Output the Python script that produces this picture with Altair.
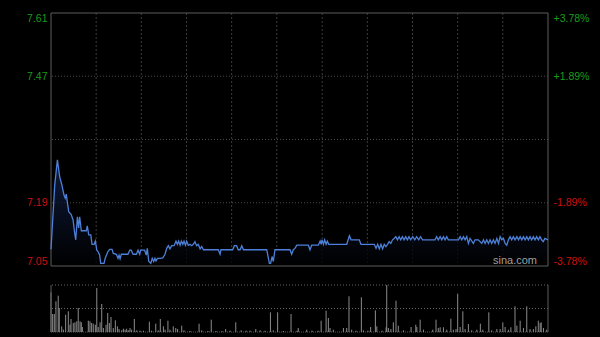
import altair as alt
import pandas as pd

# ---------------- data ----------------
minutes = [0.0, 1.8, 3.1, 4.2, 5.3, 6.3, 6.9, 7.4, 7.9, 8.6, 9.8, 10.7, 11.5, 12.0, 12.8, 13.4, 13.9, 14.7,
           17.1, 17.6, 18.3, 19.3, 19.9, 20.9, 21.5, 22.2, 22.8, 23.6, 24.1, 25.7, 26.3, 27.6, 28.5, 29.6,
           30.2, 31.7, 32.5, 33.0, 33.5, 34.1, 37.3, 38.2, 38.9, 39.8, 41.4, 42.2, 43.0, 43.5, 45.4, 46.2,
           46.7, 47.4, 48.4, 49.1, 49.8, 50.4, 50.9, 51.6, 52.9, 54.2, 55.3, 56.1, 56.9, 57.7, 58.5, 59.7,
           60.6, 61.3, 61.9, 62.6, 63.2, 63.9, 64.5, 65.2, 65.8, 66.6, 67.4, 68.2, 69.0, 69.8, 70.6, 71.4,
           72.3, 73.1, 73.9, 81.1, 82.0, 82.4, 88.1, 88.9, 90.0, 90.8, 91.7, 92.5, 93.3, 104.6, 105.9, 106.5,
           107.2, 107.8, 108.6, 115.9, 116.7, 117.5, 118.3, 119.2, 124.8, 125.6, 126.4, 129.6, 130.5, 131.0,
           131.4, 132.1, 132.7, 133.4, 134.0, 134.7, 143.4, 144.7, 145.5, 149.5, 150.3, 156.8, 157.6, 158.4,
           159.2, 160.0, 160.8, 161.6, 162.4, 163.2, 164.0, 164.8, 165.6, 166.4, 167.2, 168.0, 168.8, 169.6,
           170.4, 171.2, 172.0, 172.8, 173.6, 174.4, 175.4, 176.4, 177.3, 178.3, 179.2, 180.2, 181.6, 186.2,
           187.0, 187.8, 188.7, 189.5, 190.3, 191.1, 191.9, 192.7, 197.6, 198.4, 199.2, 200.0, 200.8, 201.6,
           202.4, 203.2, 204.8, 205.6, 207.2, 208.9, 209.7, 210.5, 211.3, 212.1, 212.9, 213.7, 214.5, 215.3,
           216.2, 217.0, 217.8, 218.6, 219.4, 220.2, 221.0, 221.8, 222.6, 223.4, 224.2, 225.0, 225.9, 226.7,
           227.5, 228.3, 229.1, 229.9, 230.7, 231.5, 232.3, 233.1, 233.9, 234.7, 235.5, 236.3, 237.1, 237.9,
           238.7, 239.5, 241.0]
prices = [7.087, 7.229, 7.285, 7.248, 7.229, 7.207, 7.200, 7.209, 7.192, 7.170, 7.164, 7.152, 7.122, 7.108,
          7.159, 7.134, 7.159, 7.128, 7.128, 7.139, 7.119, 7.119, 7.098, 7.098, 7.105, 7.085, 7.082, 7.074,
          7.056, 7.056, 7.067, 7.082, 7.087, 7.087, 7.078, 7.076, 7.067, 7.074, 7.066, 7.076, 7.076, 7.085,
          7.085, 7.076, 7.076, 7.085, 7.076, 7.085, 7.085, 7.074, 7.089, 7.060, 7.056, 7.067, 7.060, 7.067,
          7.061, 7.067, 7.067, 7.068, 7.076, 7.089, 7.095, 7.088, 7.095, 7.095, 7.105, 7.098, 7.105, 7.096,
          7.105, 7.098, 7.105, 7.096, 7.105, 7.096, 7.098, 7.095, 7.098, 7.104, 7.095, 7.098, 7.088, 7.093,
          7.086, 7.086, 7.076, 7.086, 7.086, 7.095, 7.095, 7.086, 7.086, 7.095, 7.086, 7.086, 7.056, 7.056,
          7.071, 7.060, 7.086, 7.086, 7.076, 7.086, 7.089, 7.096, 7.096, 7.086, 7.096, 7.096, 7.105, 7.098,
          7.108, 7.098, 7.108, 7.098, 7.105, 7.098, 7.098, 7.117, 7.108, 7.108, 7.098, 7.098, 7.089, 7.098,
          7.088, 7.098, 7.088, 7.098, 7.093, 7.098, 7.104, 7.100, 7.108, 7.111, 7.115, 7.108, 7.115, 7.108,
          7.115, 7.108, 7.115, 7.108, 7.115, 7.108, 7.115, 7.108, 7.115, 7.108, 7.115, 7.108, 7.108, 7.108,
          7.115, 7.108, 7.115, 7.108, 7.115, 7.108, 7.115, 7.108, 7.108, 7.115, 7.108, 7.115, 7.108, 7.115,
          7.100, 7.111, 7.100, 7.108, 7.108, 7.100, 7.108, 7.100, 7.108, 7.100, 7.108, 7.100, 7.108, 7.100,
          7.111, 7.100, 7.115, 7.108, 7.111, 7.100, 7.096, 7.108, 7.115, 7.108, 7.115, 7.108, 7.115, 7.108,
          7.115, 7.108, 7.115, 7.108, 7.115, 7.108, 7.115, 7.108, 7.115, 7.108, 7.115, 7.108, 7.115, 7.108,
          7.104, 7.111, 7.108]

vol_minutes = [0.0, 0.8, 1.6, 2.4, 3.5, 4.0, 5.2, 6.0, 7.1, 8.4, 9.2, 9.7, 10.8, 11.6, 12.5, 13.2, 14.1, 14.7,
               15.2, 18.1, 18.9, 19.7, 20.5, 21.5, 22.2, 22.9, 23.8, 24.6, 25.4, 26.7, 27.5, 28.3, 29.1, 30.2,
               31.2, 32.2, 33.0, 34.3, 35.1, 35.9, 36.7, 37.5, 38.3, 39.1, 40.4, 41.6, 43.2, 44.8, 47.7, 48.8,
               50.8, 52.0, 53.0, 54.5, 55.3, 56.7, 57.7, 59.3, 60.5, 61.4, 63.4, 64.5, 67.4, 71.8, 73.1, 76.1,
               77.7, 80.0, 82.9, 84.7, 86.8, 89.6, 92.2, 94.6, 96.5, 99.3, 101.4, 103.8, 106.4, 107.8, 109.9,
               112.7, 116.4, 119.3, 119.9, 124.0, 126.6, 129.5, 131.0, 133.4, 134.5, 135.3, 136.9, 141.8, 143.4,
               144.5, 145.8, 147.9, 150.5, 151.5, 153.7, 155.0, 157.3, 158.0, 160.5, 162.5, 162.8, 163.6, 164.8,
               166.0, 167.3, 168.4, 170.9, 174.6, 176.9, 177.4, 179.0, 180.6, 185.1, 186.7, 187.8, 188.7, 190.3,
               191.9, 193.9, 195.1, 196.4, 197.2, 198.4, 199.7, 200.8, 202.4, 204.0, 206.5, 208.2, 209.4, 212.3,
               213.7, 216.2, 217.8, 219.1, 220.2, 221.8, 223.0, 225.0, 225.9, 227.5, 229.1, 230.7, 232.3, 233.9,
               235.1, 236.3, 237.2, 237.7, 238.8, 240.4]
volumes = [39.7, 18, 18, 30.7, 36.3, 24, 5.7, 2.3, 17.3, 20.7, 7.3, 13, 9, 9.7, 10.7, 24, 10.7, 9.7,
           5, 11.3, 10.7, 9, 8.3, 7.3, 44, 5, 9.7, 28, 4, 7.3, 19, 9, 15, 4,
           11.7, 5.7, 3, 1.7, 3.3, 2.3, 3.3, 1.7, 4, 2.3, 13, 1.7, 1.3, 1.3, 10.3, 1.3,
           8.3, 1.7, 13, 5.7, 2.3, 11.3, 2.3, 5.7, 4, 3, 6.3, 1.7, 1, 8.3, 1.7, 1,
           12.3, 1, 1, 3, 1.3, 9.7, 1.7, 1.3, 1.3, 3, 1.7, 1.3, 19.7, 1.7, 19.7,
           1, 18, 1.3, 4, 2.3, 1.3, 1.3, 11.3, 21.3, 14, 4, 2.3, 4, 4,
           35.7, 2.3, 1.3, 34.7, 1.7, 1.3, 5, 21.7, 5.7, 1.3, 4.7, 47, 4, 3,
           9.7, 31.3, 6.3, 1.7, 5, 7.3, 5, 12.3, 2.3, 2.3, 12.3, 4, 4.7, 4.7,
           2.3, 13.3, 2.3, 3, 38.3, 5, 20.7, 3, 8, 1.7, 2.3, 8.3, 2.3, 19.7,
           1.7, 3, 3, 9.7, 5, 2.3, 4.7, 25.7, 6.3, 11.3, 4, 25.7, 3, 3,
           5.7, 11.3, 9, 9.7, 4, 2.3]

price_ticks = [7.61, 7.47, 7.19, 7.05]
pct_labels = ["+3.78%", "+1.89%", "-1.89%", "-3.78%"]
grid_prices = [7.47, 7.33, 7.19]
frame_prices = [7.61, 7.05]
time_grid = [21.9, 43.8, 65.7, 87.6, 109.5, 131.5, 153.4, 175.3, 197.2, 219.1]
session_ends = [0, 241]
vol_grid = [23.5, 47]
vol_max = 47
prev_close = 7.33
WATERMARK = "sina.com"

# ---------------- styles ----------------
UP = "#1c9c1c"
DOWN = "#cc1010"
LINE = "#4d80d8"
FRAME = "#5c5c5c"
GRID = "#4a4a4a"
FONT = "Liberation Sans"

# panel placement inside the 319 px tall plot area (price panel on top, volume panel below)
PRICE_RANGE = [253, 0]
VOL_RANGE = [319, 272]

main_df = pd.DataFrame({"minute": minutes, "price": prices})
vol_df = pd.DataFrame({"minute": vol_minutes, "volume": volumes})

x_scale = alt.Scale(domain=[0, 241], nice=False, zero=False)
y_scale = alt.Scale(domain=[7.05, 7.61], nice=False, zero=False, range=PRICE_RANGE)
v_scale = alt.Scale(domain=[0, vol_max], nice=False, zero=True, range=VOL_RANGE)

X = alt.X("minute:Q", scale=x_scale, axis=None)

label_color = {"expr": f"datum.value > {prev_close} ? '{UP}' : '{DOWN}'"}
pct_expr = " : ".join(
    f"abs(datum.value - {p}) < 0.001 ? '{l}'" for p, l in zip(price_ticks, pct_labels)
) + " : ''"

left_axis = alt.Axis(orient="left", values=price_ticks, format=".2f", labelColor=label_color, labelFont=FONT,
                     labelFontSize=10.5, labelPadding=4, labelFlush=True, labelFlushOffset=0,
                     ticks=False, domain=False, grid=False, title="")
right_axis = alt.Axis(orient="right", values=price_ticks, labelColor=label_color, labelFont=FONT,
                      labelFontSize=10.5, labelPadding=5, labelFlush=True, labelFlushOffset=0,
                      labelExpr=pct_expr, ticks=False, domain=False, grid=False, title="")

# vertical dotted time grid inside the price panel
vgrid = alt.Chart(pd.DataFrame({"minute": time_grid, "top": frame_prices[0], "bottom": frame_prices[1]})).mark_rule(
    color="#3c3c3c", strokeDash=[2, 2], strokeWidth=1
).encode(x=X, y=alt.Y("top:Q", scale=y_scale, axis=None), y2="bottom:Q")

hgrid = alt.Chart(pd.DataFrame({"price": grid_prices})).mark_rule(
    color=GRID, strokeDash=[1, 2], strokeWidth=1
).encode(y=alt.Y("price:Q", scale=y_scale, axis=None))

frame_h = alt.Chart(pd.DataFrame({"price": frame_prices})).mark_rule(color=FRAME, strokeWidth=1).encode(
    y=alt.Y("price:Q", scale=y_scale, axis=None)
)
frame_v = alt.Chart(pd.DataFrame({"minute": session_ends, "top": frame_prices[0], "bottom": frame_prices[1]})).mark_rule(
    color=FRAME, strokeWidth=1
).encode(x=X, y=alt.Y("top:Q", scale=y_scale, axis=None), y2="bottom:Q")

area = alt.Chart(main_df).mark_area(
    color=alt.Gradient(
        gradient="linear",
        stops=[alt.GradientStop(color="#12224a", offset=0), alt.GradientStop(color="#000000", offset=1)],
        x1=1, x2=1, y1=0, y2=1,
    ),
    opacity=0.8,
).encode(x=X, y=alt.Y("price:Q", scale=y_scale, axis=None), y2=alt.Y2Datum(frame_prices[1]))

line = alt.Chart(main_df).mark_line(color=LINE, strokeWidth=1.3).encode(
    x=X, y=alt.Y("price:Q", scale=y_scale, axis=left_axis)
)

right = alt.Chart(pd.DataFrame({"price": price_ticks})).mark_point(opacity=0).encode(
    y=alt.Y("price:Q", scale=y_scale, axis=right_axis)
)

mark = alt.Chart(pd.DataFrame({"t": [WATERMARK]})).mark_text(
    align="right", baseline="middle", font=FONT, fontSize=11, color="#a0a0a0"
).encode(text="t:N", x=alt.value(486), y=alt.value(248))

# volume panel
bars = alt.Chart(vol_df).mark_rule(color="#8c8c8c", strokeWidth=1).encode(
    x=X, y=alt.Y("volume:Q", scale=v_scale, axis=None), y2=alt.Y2Datum(0)
)
vgrid2 = alt.Chart(pd.DataFrame({"volume": vol_grid})).mark_rule(
    color="#666666", strokeDash=[1, 2], strokeWidth=1
).encode(y=alt.Y("volume:Q", scale=v_scale, axis=None))
base2 = alt.Chart(pd.DataFrame({"volume": [0]})).mark_rule(
    color="#555555", strokeDash=[1, 1], strokeWidth=1
).encode(y=alt.Y("volume:Q", scale=v_scale, axis=None))
sides = alt.Chart(pd.DataFrame({"minute": session_ends, "top": vol_max, "bottom": 0})).mark_rule(
    color=FRAME, strokeWidth=1
).encode(x=X, y=alt.Y("top:Q", scale=v_scale, axis=None), y2="bottom:Q")

chart = alt.layer(
    vgrid, hgrid, area, frame_h, frame_v, line, right, mark, vgrid2, base2, bars, sides
).resolve_scale(y="independent").properties(
    width=497, height=319,
    autosize=alt.AutoSizeParams(type="none"),
    padding={"left": 51, "top": 13, "right": 52, "bottom": 5},
    background="black",
).configure_view(strokeOpacity=0)

chart.save("out.html", embed_options={"renderer": "svg", "actions": False})
